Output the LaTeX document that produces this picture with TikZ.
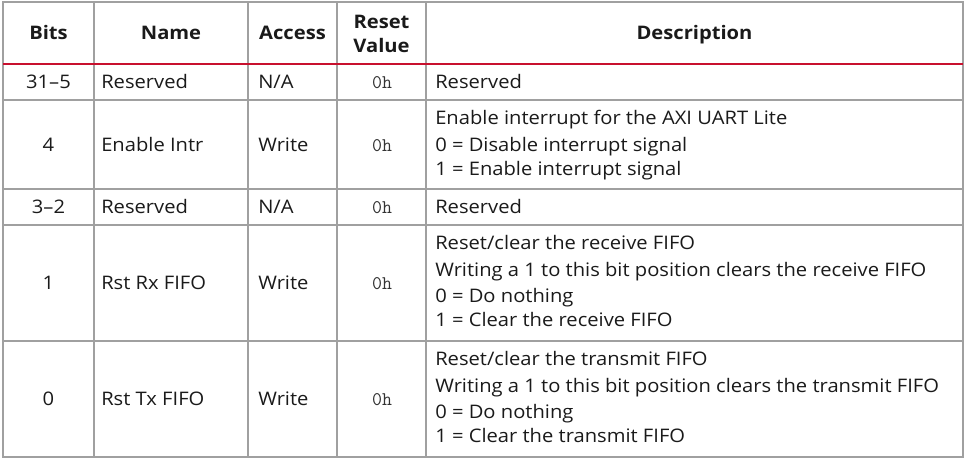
\documentclass[tikz,border=0pt]{standalone}
\usepackage{fontspec}
\setmainfont[FakeStretch=1.08]{Open Sans}
\definecolor{gridc}{HTML}{A0A0A0}
\definecolor{xred}{HTML}{C8102E}
\definecolor{txt}{HTML}{1A1A1A}
\tikzset{
  gridline/.style={draw=gridc, line width=0.9pt},
  redline/.style={draw=xred, line width=2.2pt},
  cell/.style={font=\fontsize{14}{17}\selectfont, text=txt, inner sep=0pt},
  cc/.style={cell, anchor=base},
  cl/.style={cell, anchor=base west},
  hd/.style={cell, anchor=base, font=\fontsize{14}{17}\selectfont\bfseries},
  mono/.style={cell, anchor=base, font=\fontsize{14.5}{17}\selectfont\ttfamily, text=black!80}
}
\begin{document}
\begin{tikzpicture}[x=0.75pt,y=-0.75pt]
\useasboundingbox (0,0) rectangle (968,461);
% grid
\foreach \xx in {94,248,337,426} \draw[gridline] (\xx,2) -- (\xx,457);
\foreach \yy in {100,189,225,341} \draw[gridline] (3,\yy) -- (963,\yy);
\draw[gridline] (3,2) rectangle (963,457);
\draw[redline] (3,64) -- (963,64);
% header
\node[hd] (hbits) at (48.5,39.5) {Bits};
\node[hd] (hname) at (171,39.5) {Name};
\node[hd] (hacc) at (292.5,39.5) {Access};
\node[hd] (hres1) at (381.5,28) {Reset};
\node[hd] (hres2) at (381.5,52) {Value};
\node[hd] (hdesc) at (694.5,39.5) {Description};
% row 1
\node[cc] (b1) at (48.5,88) {31–5};
\node[cl] (n1) at (101,88) {Reserved};
\node[cl] (a1) at (258,88) {N/A};
\node[mono] (r1) at (382,88) {0h};
\node[cl] (d1) at (435,88) {Reserved};
% row 2
\node[cc] (b2) at (48.5,151) {4};
\node[cl] (n2) at (101,151) {Enable Intr};
\node[cl] (a2) at (258,151) {Write};
\node[mono] (r2) at (382,151) {0h};
\node[cl] (d2a) at (435,124) {Enable interrupt for the AXI UART Lite};
\node[cl] (d2b) at (435,151) {0 = Disable interrupt signal};
\node[cl] (d2c) at (435,175) {1 = Enable interrupt signal};
% row 3
\node[cc] (b3) at (48.5,213) {3–2};
\node[cl] (n3) at (101,213) {Reserved};
\node[cl] (a3) at (258,213) {N/A};
\node[mono] (r3) at (382,213) {0h};
\node[cl] (d3) at (435,213) {Reserved};
% row 4
\node[cc] (b4) at (48.5,289) {1};
\node[cl] (n4) at (101,289) {Rst Rx FIFO};
\node[cl] (a4) at (258,289) {Write};
\node[mono] (r4) at (382,289) {0h};
\node[cl] (d4a) at (435,249) {Reset/clear the receive FIFO};
\node[cl] (d4b) at (435,276) {Writing a 1 to this bit position clears the receive FIFO};
\node[cl] (d4c) at (435,302) {0 = Do nothing};
\node[cl] (d4d) at (435,326) {1 = Clear the receive FIFO};
% row 5
\node[cc] (b5) at (48.5,405) {0};
\node[cl] (n5) at (101,405) {Rst Tx FIFO};
\node[cl] (a5) at (258,405) {Write};
\node[mono] (r5) at (382,405) {0h};
\node[cl] (d5a) at (435,365) {Reset/clear the transmit FIFO};
\node[cl] (d5b) at (435,392) {Writing a 1 to this bit position clears the transmit FIFO};
\node[cl] (d5c) at (435,418) {0 = Do nothing};
\node[cl] (d5d) at (435,442) {1 = Clear the transmit FIFO};
\end{tikzpicture}
\end{document}
